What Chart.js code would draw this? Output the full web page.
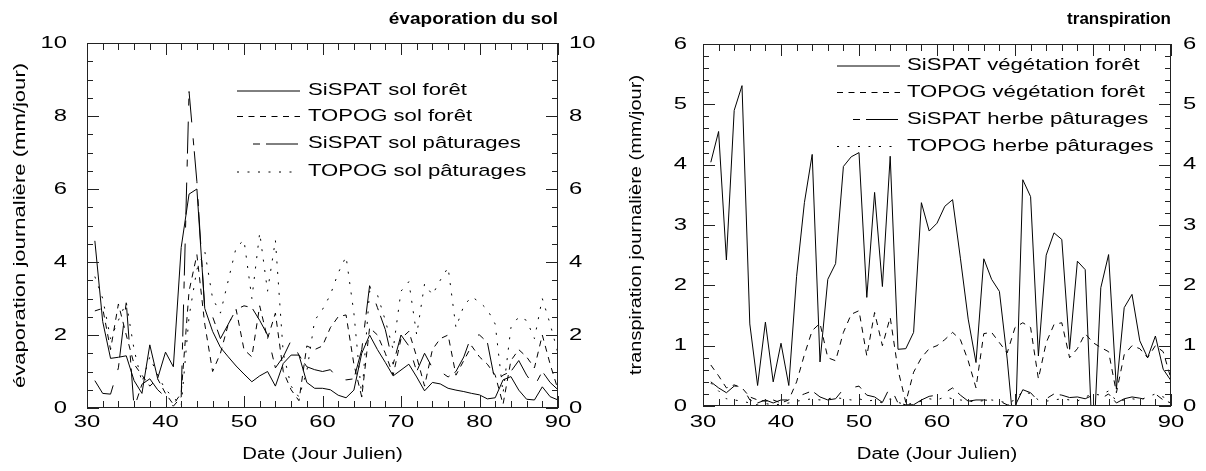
<!DOCTYPE html>
<html>
<head>
<meta charset="utf-8">
<script src="https://cdn.jsdelivr.net/npm/chart.js@4.4.1/dist/chart.umd.min.js"></script>
<style>
  html, body { margin: 0; padding: 0; background: #fff; }
  #wrap { position: relative; width: 1206px; height: 471px; }
  .panel { position: absolute; top: 0; width: 603px; height: 471px; }
</style>
</head>
<body>
<div id="wrap">
  <div class="panel" style="left:0"><canvas id="c1" width="603" height="471"></canvas></div>
  <div class="panel" style="left:603px"><canvas id="c2" width="603" height="471"></canvas></div>
</div>
<script>
// jour julien
const days = [31,32,33,34,35,36,37,38,39,40,41,42,43,44,45,46,47,48,49,50,
              51,52,53,54,55,56,57,58,59,60,61,62,63,64,65,66,67,68,69,70,
              71,72,73,74,75,76,77,78,79,80,81,82,83,84,85,86,87,88,89,90];

// évaporation du sol (mm/jour)
const evapSispatForet = [4.58,2.37,1.36,1.39,1.43,0.75,0.40,1.73,0.81,1.53,
                         1.13,4.40,5.86,6.00,2.73,2.10,1.66,1.40,1.15,0.93,
                         0.72,0.88,1.00,0.60,1.22,1.45,1.45,0.70,0.54,0.54,
                         0.50,0.35,0.28,0.49,1.50,2.00,1.60,1.25,0.88,1.04,
                         1.20,0.85,0.47,0.70,0.66,0.54,0.49,0.45,0.40,0.36,
                         0.25,0.28,0.77,0.86,0.49,0.24,0.22,0.58,0.31,0.22];
const evapTopogForet = [2.66,2.73,1.60,2.85,2.00,1.20,0.90,0.60,0.80,0.40,
                        0.10,0.40,3.20,4.20,2.30,1.00,1.50,2.30,2.70,1.60,
                        1.40,2.80,1.90,2.60,1.00,0.50,0.20,1.70,1.60,1.70,
                        2.20,2.50,2.55,1.20,0.30,2.20,2.00,1.50,0.90,1.90,
                        2.10,1.40,0.60,1.60,1.90,2.00,0.90,1.30,1.70,1.40,
                        1.20,0.90,0.10,1.30,1.60,1.40,1.10,2.00,1.20,0.50];
const evapSispatPat = [0.75,0.40,0.38,1.10,2.90,0.00,0.65,0.80,0.50,0.30,
                       0.05,0.30,8.67,6.20,2.70,2.50,1.90,2.30,2.70,2.80,
                       2.75,2.40,2.00,1.10,1.40,1.85,1.45,1.13,1.05,1.00,
                       1.05,0.80,0.77,0.80,1.60,3.35,2.75,2.15,1.20,2.00,
                       1.70,1.00,1.50,1.10,1.00,0.85,1.00,1.40,2.00,2.00,
                       1.80,0.70,0.90,1.00,1.30,0.90,0.60,1.00,0.70,0.50];
const evapTopogPat = [3.60,3.00,1.90,2.40,2.90,1.60,0.70,1.40,0.90,0.50,
                      0.30,0.05,2.50,3.80,4.30,3.00,2.60,3.50,4.40,4.60,
                      3.00,4.80,3.20,4.60,1.50,0.60,0.30,1.00,2.40,2.70,
                      3.10,3.70,4.15,2.60,0.30,3.20,3.10,2.40,1.60,3.20,
                      3.46,2.00,3.40,3.10,3.50,3.85,2.20,2.80,3.05,2.90,
                      2.70,2.30,0.40,2.20,2.50,2.40,1.90,3.00,2.30,1.50];

// transpiration (mm/jour)
const transSispatForet = [4.04,4.55,2.42,4.90,5.31,1.36,0.34,1.39,0.40,1.04,
                          0.34,2.15,3.37,4.17,0.73,2.10,2.36,3.97,4.13,4.20,
                          1.80,3.54,1.98,4.14,0.94,0.95,1.22,3.37,2.90,3.03,
                          3.31,3.42,2.45,1.44,0.72,2.44,2.10,1.90,0.78,-0.61,
                          3.75,3.47,0.83,2.50,2.87,2.76,0.94,2.40,2.26,-0.84,
                          1.96,2.51,0.28,1.63,1.85,1.08,0.80,1.16,0.61,0.42];
const transTopogForet = [0.68,0.50,0.30,0.35,0.30,0.15,0.10,0.08,0.10,0.05,
                         0.10,0.40,0.85,1.25,1.37,0.80,0.75,1.22,1.52,1.58,
                         0.83,1.55,1.00,1.47,0.60,0.06,0.56,0.80,0.95,1.00,
                         1.10,1.22,1.10,0.75,0.30,1.20,1.22,1.05,0.88,1.30,
                         1.38,1.30,0.45,1.05,1.35,1.38,0.80,0.95,1.20,1.05,
                         0.97,0.90,0.22,0.85,1.00,0.95,0.80,1.00,0.90,0.45];
const transSispatHerbe = [0.40,0.30,0.22,0.33,0.33,0.10,0.05,0.10,0.05,0.10,
                          0.10,0.15,0.20,0.25,0.15,0.10,0.12,0.28,0.30,0.33,
                          0.18,0.15,0.06,0.32,0.05,0.02,0.02,0.10,0.16,0.18,
                          0.22,0.30,0.18,0.08,0.10,0.10,0.09,0.08,0.02,0.00,
                          0.27,0.22,0.08,0.12,0.20,0.18,0.14,0.15,0.12,0.18,
                          0.12,0.20,0.05,0.12,0.15,0.13,0.10,0.20,0.10,0.05];
const transTopogHerbe = [0.38,0.25,0.12,0.10,0.08,0.05,0.02,0.04,0.02,0.03,
                         0.05,0.08,0.10,0.12,0.10,0.12,0.14,0.12,0.10,0.12,
                         0.08,0.10,0.05,0.12,0.06,0.02,0.05,0.08,0.12,0.10,
                         0.15,0.12,0.10,0.08,0.07,0.09,0.10,0.08,0.05,0.10,
                         0.25,0.20,0.10,0.08,0.10,0.12,0.10,0.08,0.15,0.20,
                         0.18,0.25,0.08,0.10,0.12,0.10,0.15,0.20,0.15,0.10];

const evapLabels = ['SiSPAT sol forêt', 'TOPOG sol forêt', 'SiSPAT sol pâturages', 'TOPOG sol pâturages'];
const transLabels = ['SiSPAT végétation forêt', 'TOPOG végétation forêt', 'SiSPAT herbe pâturages', 'TOPOG herbe pâturages'];

// line styles: solid, short dash, long dash, dotted
const DASHES = [[], [6, 5.5], [32, 16, 7, 6], [2, 8.5]];
const LEGEND_OFFSETS = [0, 0, 32, 0];

const FONT = "'Liberation Sans', Arial, sans-serif";

function txt(ctx, s, x, y, font, align, sx, rot) {
  ctx.save();
  ctx.translate(x, y);
  if (rot) ctx.rotate(rot);
  ctx.scale(sx, 1);
  ctx.font = font;
  ctx.fillStyle = '#000';
  ctx.textAlign = align;
  ctx.textBaseline = 'middle';
  ctx.fillText(s, 0, 0);
  ctx.restore();
}

// frame, inward ticks, labels, titles, legend
const decor = {
  id: 'decor',
  afterDatasetsDraw(chart, args, o) {
    const ctx = chart.ctx, ca = chart.chartArea;
    const xs = chart.scales.x, ys = chart.scales.y;
    ctx.save();
    ctx.strokeStyle = '#222';
    ctx.lineWidth = 1;
    ctx.setLineDash([]);
    ctx.strokeRect(ca.left + 0.5, ca.top + 0.5, ca.right - ca.left - 1, ca.bottom - ca.top - 1);
    ctx.beginPath();
    const nx = Math.round((xs.max - xs.min) / o.xMinor);
    for (let i = 0; i <= nx; i++) {
      const v = xs.min + i * o.xMinor;
      const p = Math.round(xs.getPixelForValue(v)) + 0.5;
      const len = (Math.round(v) % o.xMajor === 0) ? 12 : 7;
      ctx.moveTo(p, ca.bottom); ctx.lineTo(p, ca.bottom - len);
      ctx.moveTo(p, ca.top); ctx.lineTo(p, ca.top + len);
    }
    const ny = Math.round((ys.max - ys.min) / o.yMinor);
    for (let i = 0; i <= ny; i++) {
      const v = ys.min + i * o.yMinor;
      const p = Math.round(ys.getPixelForValue(v)) + 0.5;
      const len = (i % o.yMajorEvery === 0) ? 12 : 6;
      ctx.moveTo(ca.left, p); ctx.lineTo(ca.left + len, p);
      ctx.moveTo(ca.right, p); ctx.lineTo(ca.right - len, p);
    }
    ctx.stroke();
    ctx.restore();

    const tickFont = '17px ' + FONT;
    xs.ticks.forEach(t => {
      txt(ctx, String(t.value), xs.getPixelForValue(t.value), o.xLabelY, tickFont, 'center', o.sxTick, 0);
    });
    ys.ticks.forEach(t => {
      const p = ys.getPixelForValue(t.value);
      txt(ctx, String(t.value), o.yLabelL, p, tickFont, 'right', o.sxTick, 0);
      txt(ctx, String(t.value), o.yLabelR, p, tickFont, 'left', o.sxTick, 0);
    });

    txt(ctx, 'Date (Jour Julien)', (ca.left + ca.right) / 2, o.xTitleY, '16px ' + FONT, 'center', o.sxTitle, 0);
    txt(ctx, o.yTitle, o.yTitleX, (ca.top + ca.bottom) / 2, '16px ' + FONT, 'center', o.sxYTitle, -Math.PI / 2);
    txt(ctx, o.title, ca.right, o.titleY, 'bold 17px ' + FONT, 'right', o.sxHead, 0);

    chart.data.datasets.forEach((ds, i) => {
      const y = o.legendY[i];
      ctx.save();
      ctx.strokeStyle = '#000';
      ctx.lineWidth = 1;
      ctx.setLineDash(ds.borderDash || []);
      ctx.lineDashOffset = LEGEND_OFFSETS[i];
      ctx.beginPath();
      ctx.moveTo(o.legendX0, y + 0.5);
      ctx.lineTo(o.legendX1, y + 0.5);
      ctx.stroke();
      ctx.restore();
      txt(ctx, ds.label, o.legendTX, y, '17px ' + FONT, 'left', o.sxLegend, 0);
    });
  }
};

function makeSets(labels, series) {
  return series.map((vals, i) => ({
    label: labels[i],
    data: days.map((d, k) => ({ x: d, y: vals[k] })),
    borderColor: '#000',
    borderWidth: 1,
    borderDash: DASHES[i],
    pointRadius: 0,
    tension: 0,
    fill: false
  }));
}

function makeChart(id, labels, series, yMax, yStep, box, deco) {
  const fix = (w, h) => (s) => { if (w !== null) s.width = w; if (h !== null) s.height = h; };
  return new Chart(document.getElementById(id), {
    type: 'line',
    data: { datasets: makeSets(labels, series) },
    options: {
      responsive: false,
      animation: false,
      layout: { padding: 0 },
      plugins: { legend: { display: false }, tooltip: { enabled: false }, decor: deco },
      scales: {
        x: { type: 'linear', position: 'bottom', min: 30, max: 90,
             ticks: { display: false, stepSize: 10 }, grid: { display: false }, border: { display: false },
             afterFit: fix(null, box.b) },
        x2: { type: 'linear', position: 'top', min: 30, max: 90,
              ticks: { display: false }, grid: { display: false }, border: { display: false },
              afterFit: fix(null, box.t) },
        y: { type: 'linear', position: 'left', min: 0, max: yMax,
             ticks: { display: false, stepSize: yStep }, grid: { display: false }, border: { display: false },
             afterFit: fix(box.l, null) },
        y2: { type: 'linear', position: 'right', min: 0, max: yMax,
              ticks: { display: false }, grid: { display: false }, border: { display: false },
              afterFit: fix(box.r, null) }
      }
    },
    plugins: [decor]
  });
}

makeChart('c1', evapLabels, [evapSispatForet, evapTopogForet, evapSispatPat, evapTopogPat], 10, 2,
  { l: 87, r: 45, t: 43, b: 63 },
  { xMinor: 2, xMajor: 10, yMinor: 0.5, yMajorEvery: 4,
    xLabelY: 422, yLabelL: 67, yLabelR: 569, xTitleY: 455, yTitleX: 21, titleY: 19,
    yTitle: 'évaporation journalière (mm/jour)', title: 'évaporation du sol',
    legendX0: 237, legendX1: 300, legendTX: 308, legendY: [90.5, 116, 143.5, 171.5],
    sxTick: 1.4, sxTitle: 1.27, sxYTitle: 1.38, sxLegend: 1.3, sxHead: 1.12 });

makeChart('c2', transLabels, [transSispatForet, transTopogForet, transSispatHerbe, transTopogHerbe], 6, 1,
  { l: 100, r: 35, t: 44, b: 65 },
  { xMinor: 2, xMajor: 10, yMinor: 0.2, yMajorEvery: 5,
    xLabelY: 422, yLabelL: 84, yLabelR: 580, xTitleY: 455, yTitleX: 34, titleY: 19,
    yTitle: 'transpiration journalière (mm/jour)', title: 'transpiration',
    legendX0: 234, legendX1: 297, legendTX: 304, legendY: [65.5, 92, 119, 146],
    sxTick: 1.4, sxTitle: 1.27, sxYTitle: 1.25, sxLegend: 1.3, sxHead: 1.0 });
</script>
</body>
</html>
